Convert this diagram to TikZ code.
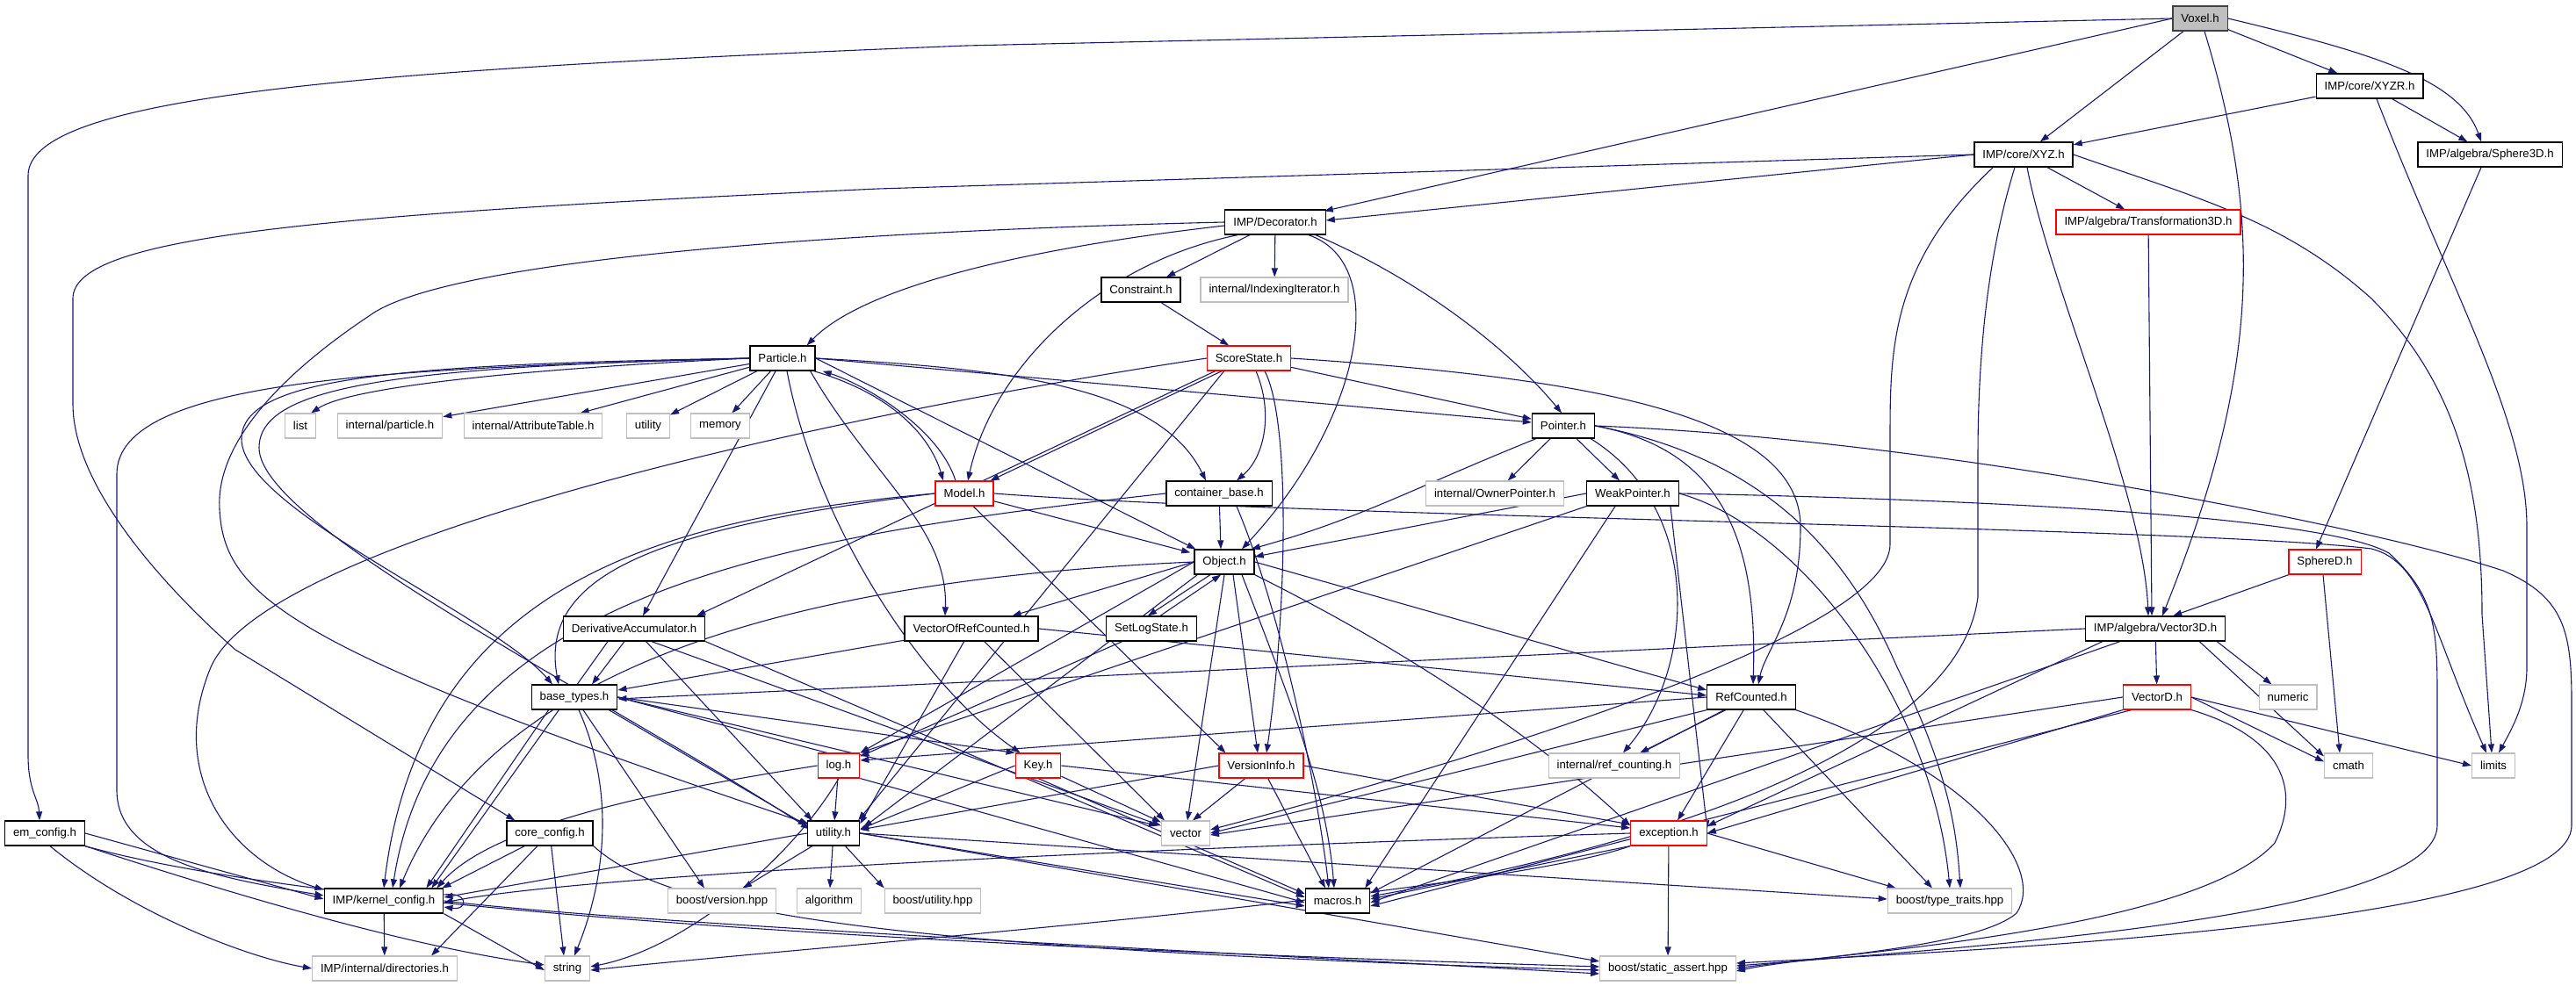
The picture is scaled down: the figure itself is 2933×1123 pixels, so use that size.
\documentclass[tikz,border=0pt]{standalone}
\usepackage{fontspec}
\setmainfont{Liberation Sans}
\usetikzlibrary{arrows.meta,calc,backgrounds}
\definecolor{edgec}{HTML}{191970}
\definecolor{grayb}{HTML}{BFBFBF}
\definecolor{redb}{HTML}{FF0000}
\begin{document}
\begin{tikzpicture}[x=1pt,y=-1pt,
  box/.style={line width=1.3pt, minimum height=28pt, inner xsep=9.5pt, inner ysep=0pt, font=\fontsize{13.2}{15}\selectfont, fill=white},
  nb/.style={box, draw=black},
  ng/.style={box, draw=grayb, line width=1.1pt},
  nr/.style={box, draw=redb, line width=1.1pt},
  nv/.style={box, draw=black!75, fill=grayb},
  ln/.style={draw=edgec, line width=1.1pt, -{Triangle[length=10pt,width=7pt]}}]
\useasboundingbox (0,0) rectangle (2933,1123);
\node[nv] (voxel) at (2505,21) {Voxel.h};
\node[nb] (xyzr) at (2698,98) {IMP/core/XYZR.h};
\node[nb] (sphere3d) at (2835,176) {IMP/algebra/Sphere3D.h};
\node[nb] (xyz) at (2304,176) {IMP/core/XYZ.h};
\node[nb] (decorator) at (1452,253) {IMP/Decorator.h};
\node[nr] (trans3d) at (2446,253) {IMP/algebra/Transformation3D.h};
\node[nb] (constraint) at (1299,330) {Constraint.h};
\node[ng] (indexing) at (1451,330) {internal/IndexingIterator.h};
\node[nb] (particle) at (891,408) {Particle.h};
\node[nr] (scorestate) at (1422,408) {ScoreState.h};
\node[ng] (list) at (342,485) {list};
\node[ng] (intparticle) at (444,485) {internal/particle.h};
\node[ng] (attrtable) at (607,485) {internal/AttributeTable.h};
\node[ng] (utilitystd) at (738,485) {utility};
\node[ng] (memory) at (820,485) {memory};
\node[nb] (pointer) at (1780,485) {Pointer.h};
\node[nr] (model) at (1098,562) {Model.h};
\node[nb] (containerbase) at (1388,562) {container\_base.h};
\node[ng] (ownerptr) at (1702,562) {internal/OwnerPointer.h};
\node[nb] (weakptr) at (1859,562) {WeakPointer.h};
\node[nb] (object) at (1394,640) {Object.h};
\node[nr] (sphered) at (2647,640) {SphereD.h};
\node[nb] (deriv) at (722,716) {DerivativeAccumulator.h};
\node[nb] (vorc) at (1106,716) {VectorOfRefCounted.h};
\node[nb] (setlog) at (1311,716) {SetLogState.h};
\node[nb] (vector3d) at (2454,716) {IMP/algebra/Vector3D.h};
\node[nb] (basetypes) at (654,794) {base\_types.h};
\node[nb] (refcounted) at (1994,794) {RefCounted.h};
\node[nr] (vectord) at (2456,794) {VectorD.h};
\node[ng] (numeric) at (2605,794) {numeric};
\node[nr] (logh) at (955,872) {log.h};
\node[nr] (key) at (1182,872) {Key.h};
\node[nr] (versioninfo) at (1436,872) {VersionInfo.h};
\node[ng] (refcounting) at (1838,872) {internal/ref\_counting.h};
\node[ng] (cmath) at (2674,872) {cmath};
\node[ng] (limits) at (2839,872) {limits};
\node[nb] (emconfig) at (51,949) {em\_config.h};
\node[nb] (coreconfig) at (626,949) {core\_config.h};
\node[nb] (utilityh) at (949,949) {utility.h};
\node[ng] (vector) at (1350,949) {vector};
\node[nr] (exception) at (1900,949) {exception.h};
\node[nb] (kernelconfig) at (437,1026) {IMP/kernel\_config.h};
\node[ng] (boostversion) at (822,1026) {boost/version.hpp};
\node[ng] (algorithm) at (944,1026) {algorithm};
\node[ng] (boostutility) at (1062,1026) {boost/utility.hpp};
\node[nb] (macros) at (1523,1026) {macros.h};
\node[ng] (typetraits) at (2220,1026) {boost/type\_traits.hpp};
\node[ng] (directories) at (438,1103) {IMP/internal/directories.h};
\node[ng] (string) at (646,1103) {string};
\node[ng] (staticassert) at (1899,1103) {boost/static\_assert.hpp};
\begin{scope}[on background layer]
\fill[white] (0,0) rectangle (2933,1123);
% Voxel
\draw[ln] (voxel.west) -- (1100,52) .. controls (400,80) and (32,110) .. (32,200) -- (32,860) .. controls (32,900) and (44,910) .. ($(emconfig.north)+(-6,0)$);
\draw[ln] (voxel.west) -- ($(decorator.north east)+(-2,2)$);
\draw[ln] (voxel) -- (xyz);
\draw[ln] ($(voxel.south)+(5,0)$) .. controls (2575,250) and (2575,420) .. ($(vector3d.north)+(8,0)$);
\draw[ln] (voxel) -- (xyzr);
\draw[ln] (voxel.east) .. controls (2700,60) and (2800,90) .. ($(sphere3d.north)+(-10,0)$);
% XYZR
\draw[ln] (xyzr) -- (xyz);
\draw[ln] (xyzr) -- (sphere3d);
\draw[ln] ($(xyzr.south)+(8,0)$) .. controls (2790,330) and (2877,480) .. (2877,600) -- (2877,760) .. controls (2877,800) and (2860,830) .. ($(limits.north)+(6,0)$);
% XYZ
\draw[ln] (xyz.west) -- ($(decorator.east)+(0,-2)$);
\draw[ln] (xyz.west) -- (1000,215) .. controls (350,245) and (83,270) .. (83,340) -- (83,460) .. controls (83,560) and (200,680) .. (268,740) -- ($(coreconfig.north west)+(10,0)$);
\draw[ln] (xyz) -- (trans3d);
\draw[ln] ($(xyz.south)+(4,0)$) .. controls (2335,330) and (2440,560) .. ($(vector3d.north)+(-8,0)$);
\draw[ln] (xyz.east) .. controls (2500,225) and (2600,250) .. (2700,340) .. controls (2800,440) and (2826,560) .. (2826,700) -- ($(limits.north)+(-2,0)$);
\draw[ln] ($(xyz.south west)+(22,0)$) .. controls (2152,300) and (2152,400) .. (2152,500) -- (2152,620) .. controls (2152,720) and (1700,860) .. ($(vector.east)+(0,-4)$);
\draw[ln] ($(xyz.south)+(-10,0)$) .. controls (2260,300) and (2252,420) .. (2252,520) -- (2252,680) .. controls (2230,850) and (1900,960) .. ($(macros.east)+(0,-5)$);
% Transformation3D, Sphere3D, SphereD
\draw[ln] (trans3d) -- ($(vector3d.north)+(-4,0)$);
\draw[ln] ($(sphere3d.south)+(-10,0)$) -- ($(sphered.north)+(-10,0)$);
\draw[ln] (sphered) -- ($(vector3d.north east)+(-60,0)$);
\draw[ln] ($(sphered.south)+(-2,0)$) -- ($(cmath.north)+(-10,0)$);
% Decorator
\draw[ln] ($(decorator.west)+(0,4)$) .. controls (1150,285) and (980,330) .. ($(particle.north east)+(-10,0)$);
\draw[ln] ($(decorator.south west)+(15,0)$) .. controls (1250,300) and (1130,420) .. ($(model.north)+(4,0)$);
\draw[ln] (decorator) -- (constraint);
\draw[ln] (decorator) -- (indexing);
\draw[ln] ($(decorator.south east)+(-20,0)$) .. controls (1585,300) and (1550,480) .. ($(object.north)+(20,0)$);
\draw[ln] ($(decorator.south east)+(-12,0)$) .. controls (1620,320) and (1720,400) .. ($(pointer.north)+(-2,0)$);
\draw[ln] (decorator.west) .. controls (900,265) and (500,300) .. (420,360) .. controls (330,420) and (245,500) .. (250,580) .. controls (255,680) and (330,740) .. ($(utilityh.north west)+(2,4)$);
\draw[ln] (constraint) -- (scorestate);
% Particle
\draw[ln] (particle.west) .. controls (600,420) and (400,440) .. ($(list.north east)+(-6,0)$);
\draw[ln] (particle) -- (intparticle);
\draw[ln] (particle) -- (attrtable);
\draw[ln] (particle) -- (utilitystd);
\draw[ln] (particle) -- (memory);
\draw[ln] (particle) -- ($(deriv.north)+(10,0)$);
\draw[ln] (particle.west) .. controls (450,420) and (133,430) .. (133,540) -- (133,900) .. controls (133,980) and (250,1000) .. ($(kernelconfig.west)+(0,-6)$);
\draw[ln] (particle.west) .. controls (450,415) and (275,430) .. (275,500) .. controls (275,580) and (560,700) .. ($(basetypes.north)+(-25,0)$);
\draw[ln] (particle.west) .. controls (450,418) and (295,440) .. (295,510) .. controls (295,600) and (700,800) .. ($(utilityh.north west)+(3,10)$);
\draw[ln] ($(particle.south east)+(-2,0)$) .. controls (1020,450) and (1060,500) .. ($(model.north)+(-24,0)$);
\draw[ln] ($(model.north)+(-10,0)$) .. controls (1070,490) and (990,440) .. ($(particle.south east)+(8,0)$);
\draw[ln] (particle.east) -- ($(pointer.west)+(0,-4)$);
\draw[ln] (particle.east) .. controls (1150,420) and (1320,440) .. ($(containerbase.north)+(-15,0)$);
\draw[ln] (particle.east) -- ($(object.north west)+(2,0)$);
\draw[ln] ($(particle.south east)+(-6,0)$) .. controls (990,540) and (1080,600) .. ($(vorc.north)+(-30,0)$);
\draw[ln] ($(particle.south)+(5,0)$) .. controls (930,600) and (1050,780) .. ($(key.north west)+(6,0)$);
% ScoreState
\draw[ln] (scorestate) -- ($(model.north east)+(-4,0)$);
\draw[ln] (scorestate.west) .. controls (900,480) and (300,620) .. (240,760) .. controls (190,880) and (260,980) .. ($(kernelconfig.north west)+(0,2)$);
\draw[ln] ($(scorestate.south west)+(10,0)$) -- ($(deriv.north east)+(-10,0)$);
\draw[ln] ($(scorestate.south west)+(20,0)$) -- ($(utilityh.north east)+(-2,0)$);
\draw[ln] ($(scorestate.south)+(8,0)$) .. controls (1450,470) and (1440,520) .. ($(containerbase.north)+(20,0)$);
\draw[ln] ($(scorestate.south)+(18,0)$) .. controls (1470,480) and (1465,700) .. ($(versioninfo.north)+(6,0)$);
\draw[ln] (scorestate) -- (pointer);
\draw[ln] (scorestate.east) .. controls (1800,430) and (2050,470) .. (2050,600) .. controls (2050,700) and (2010,740) .. ($(refcounted.north)+(8,0)$);
% Pointer
\draw[ln] (pointer) -- (ownerptr);
\draw[ln] (pointer) -- (weakptr);
\draw[ln] ($(pointer.south west)+(5,0)$) .. controls (1600,560) and (1550,590) .. ($(object.north east)+(-4,0)$);
\draw[ln] (pointer.east) .. controls (1950,510) and (2002,600) .. ($(refcounted.north)+(2,0)$);
\draw[ln] ($(pointer.south east)+(-5,0)$) .. controls (1940,580) and (1930,760) .. ($(refcounting.north)+(10,0)$);
\draw[ln] (pointer.east) .. controls (2000,520) and (2100,620) .. (2160,760) .. controls (2220,880) and (2228,950) .. ($(typetraits.north)+(12,0)$);
\draw[ln] (pointer.east) .. controls (2200,500) and (2700,600) .. (2850,650) .. controls (2920,680) and (2928,720) .. (2928,800) -- (2928,940) .. controls (2928,1050) and (2300,1080) .. ($(staticassert.east)+(0,-6)$);
% Model
\draw[ln] (model) -- ($(object.north west)+(-4,4)$);
\draw[ln] (model.west) .. controls (760,600) and (612,650) .. ($(basetypes.north)+(-18,0)$);
\draw[ln] (model.west) .. controls (760,590) and (480,660) .. ($(kernelconfig.north)+(0,0)$);
\draw[ln] ($(model.south)+(10,0)$) -- ($(versioninfo.north west)+(8,0)$);
\draw[ln] (model.east) .. controls (1500,590) and (2500,600) .. (2700,625) .. controls (2760,640) and (2770,720) .. ($(limits.north)+(-8,0)$);
% container_base
\draw[ln] (containerbase) -- ($(object.north)+(-4,0)$);
\draw[ln] ($(containerbase.south)+(20,0)$) .. controls (1460,700) and (1500,900) .. ($(macros.north)+(-10,0)$);
\draw[ln] (containerbase.west) .. controls (900,610) and (500,670) .. ($(kernelconfig.north)+(10,0)$);
% WeakPointer
\draw[ln] (weakptr.west) -- ($(object.east)+(0,-6)$);
\draw[ln] (weakptr.south west) -- (logh.north east);
\draw[ln] ($(weakptr.south)+(-20,0)$) -- ($(macros.north east)+(-6,0)$);
\draw[ln] ($(weakptr.south east)+(-10,0)$) -- ($(exception.north east)+(0,10)$);
\draw[ln] (weakptr.east) .. controls (2050,600) and (2200,800) .. ($(typetraits.north)+(0,0)$);
\draw[ln] (weakptr.east) .. controls (2300,570) and (2650,590) .. (2720,630) .. controls (2775,680) and (2775,720) .. (2775,800) -- (2775,940) .. controls (2775,1040) and (2300,1075) .. ($(staticassert.east)+(0,-3)$);
% Object
\draw[ln] (object.east) -- ($(refcounted.west)+(0,-8)$);
\draw[ln] (object.west) -- ($(vorc.north east)+(-30,0)$);
\draw[ln] ($(object.south)+(-16,0)$) -- ($(setlog.north)+(-4,0)$);
\draw[ln] ($(setlog.north)+(10,0)$) -- ($(object.south)+(-4,0)$);
\draw[ln] (object.west) -- (logh.north east);
\draw[ln] ($(object.south)+(10,0)$) -- ($(versioninfo.north)+(-4,0)$);
\draw[ln] ($(object.south)+(0,0)$) -- ($(vector.north)+(2,0)$);
\draw[ln] ($(object.south)+(20,0)$) .. controls (1470,800) and (1510,900) .. ($(macros.north)+(-4,0)$);
\draw[ln] (object.south east) .. controls (1620,750) and (1760,850) .. ($(exception.north west)+(0,6)$);
\draw[ln] ($(object.south west)+(4,0)$) -- ($(utilityh.north east)+(4,8)$);
\draw[ln] (object.west) .. controls (900,660) and (560,760) .. ($(kernelconfig.north)+(18,0)$);
\draw[ln] (setlog) -- ($(logh.north east)+(0,4)$);
% DerivativeAccumulator
\draw[ln] (deriv) -- ($(basetypes.north)+(20,0)$);
\draw[ln] ($(deriv.south)+(-30,0)$) -- ($(kernelconfig.north east)+(-14,0)$);
\draw[ln] (deriv) -- ($(utilityh.north west)+(6,0)$);
\draw[ln] ($(deriv.south)+(20,0)$) -- ($(vector.north west)+(0,6)$);
\draw[ln] (deriv.south east) -- ($(macros.west)+(0,-4)$);
% VectorOfRefCounted
\draw[ln] (vorc) -- ($(basetypes.east)+(0,-8)$);
\draw[ln] (vorc.east) -- ($(refcounted.west)+(0,-2)$);
\draw[ln] (vorc) -- ($(vector.north west)+(4,0)$);
\draw[ln] (vorc) -- ($(utilityh.north east)+(0,4)$);
% Vector3D and VectorD
\draw[ln] (vector3d.west) -- ($(basetypes.east)+(0,2)$);
\draw[ln] (vector3d) -- (vectord);
\draw[ln] ($(vector3d.south east)+(-10,0)$) -- (numeric);
\draw[ln] ($(vector3d.south east)+(-30,0)$) -- ($(cmath.north west)+(0,4)$);
\draw[ln] ($(vector3d.south west)+(20,0)$) -- ($(exception.east)+(0,-8)$);
\draw[ln] ($(vector3d.south west)+(40,0)$) -- ($(macros.east)+(0,2)$);
\draw[ln] (vectord.east) -- ($(cmath.north west)+(0,10)$);
\draw[ln] (vectord.east) -- (limits.west);
\draw[ln] (vectord.west) -- ($(vector.east)+(0,2)$);
\draw[ln] (vectord.south west) -- ($(exception.east)+(0,0)$);
\draw[ln] ($(vectord.south west)+(10,0)$) -- ($(macros.east)+(0,6)$);
\draw[ln] (vectord.south east) .. controls (2600,840) and (2620,900) .. (2590,960) .. controls (2500,1060) and (2100,1085) .. ($(staticassert.east)+(0,0)$);
% base_types
\draw[ln] (basetypes.east) -- (key.north west);
\draw[ln] (basetypes.east) -- ($(logh.north east)+(0,10)$);
\draw[ln] (basetypes.east) -- ($(vector.north west)+(-4,6)$);
\draw[ln] ($(basetypes.south)+(10,0)$) -- ($(boostversion.north)+(-20,0)$);
\draw[ln] ($(basetypes.south)+(5,0)$) .. controls (700,900) and (690,1000) .. ($(string.north)+(8,0)$);
\draw[ln] ($(basetypes.south west)+(20,0)$) -- ($(kernelconfig.north east)+(-20,0)$);
\draw[ln] ($(basetypes.south east)+(-10,0)$) -- ($(utilityh.north west)+(0,6)$);
% RefCounted
\draw[ln] (refcounted.west) -- ($(logh.east)+(0,-6)$);
\draw[ln] (refcounted) -- (refcounting);
\draw[ln] (refcounted.south west) -- (vector.east);
\draw[ln] (refcounted) -- ($(exception.north)+(10,0)$);
\draw[ln] ($(refcounted.south west)+(20,0)$) -- ($(macros.north east)+(0,6)$);
\draw[ln] (refcounted) -- ($(typetraits.north)+(-20,0)$);
\draw[ln] (refcounted.south east) .. controls (2250,880) and (2330,990) .. (2296,1040) .. controls (2250,1080) and (2050,1090) .. ($(staticassert.east)+(0,3)$);
% log.h
\draw[ln] (logh.west) .. controls (750,900) and (560,940) .. ($(kernelconfig.north east)+(-8,0)$);
\draw[ln] (logh) -- (utilityh);
\draw[ln] (logh.south east) -- ($(macros.west)+(0,2)$);
\draw[ln] (logh.south) .. controls (900,980) and (780,1080) .. ($(string.east)+(0,-2)$);
% Key.h
\draw[ln] (key.west) -- ($(utilityh.north east)+(0,10)$);
\draw[ln] (key) -- ($(vector.north west)+(0,2)$);
\draw[ln] (key.south) -- ($(macros.west)+(0,-8)$);
\draw[ln] (key.east) -- ($(exception.west)+(0,-6)$);
% VersionInfo.h
\draw[ln] (versioninfo.west) -- ($(utilityh.east)+(0,-4)$);
\draw[ln] (versioninfo) -- ($(vector.north)+(8,0)$);
\draw[ln] (versioninfo) -- ($(macros.north)+(-14,0)$);
\draw[ln] (versioninfo.east) -- ($(exception.west)+(0,-10)$);
% utility.h
\draw[ln] (utilityh.west) -- ($(kernelconfig.east)+(0,-4)$);
\draw[ln] (utilityh) -- (boostversion);
\draw[ln] (utilityh) -- (algorithm);
\draw[ln] (utilityh) -- (boostutility.north west);
\draw[ln] (utilityh.east) -- ($(macros.west)+(0,6)$);
\draw[ln] (utilityh.east) -- ($(typetraits.west)+(0,-2)$);
\draw[ln] (utilityh.east) -- ($(staticassert.west)+(0,-8)$);
% exception.h
\draw[ln] (exception.south west) -- ($(macros.east)+(0,-2)$);
\draw[ln] (exception.south west) .. controls (1700,1020) and (900,1080) .. ($(string.east)+(0,2)$);
\draw[ln] (exception) -- (staticassert);
\draw[ln] (exception.east) -- ($(typetraits.north west)+(10,0)$);
\draw[ln] (exception.west) .. controls (1500,960) and (700,990) .. ($(kernelconfig.east)+(0,2)$);
% config headers
\draw[ln] (emconfig.east) -- ($(kernelconfig.west)+(0,-2)$);
\draw[ln] ($(emconfig.south)+(6,0)$) .. controls (150,1040) and (280,1090) .. (directories.west);
\draw[ln] (emconfig.south east) .. controls (300,1030) and (480,1080) .. ($(string.west)+(0,-4)$);
\draw[ln] (emconfig.south east) .. controls (300,1020) and (800,1070) .. ($(staticassert.west)+(0,-2)$);
\draw[ln] (coreconfig) -- ($(kernelconfig.north east)+(-2,0)$);
\draw[ln] (coreconfig) -- ($(directories.north east)+(-30,0)$);
\draw[ln] (coreconfig) -- ($(string.north)+(-4,0)$);
\draw[ln] (coreconfig.south east) .. controls (760,1040) and (1000,1080) .. ($(staticassert.west)+(0,2)$);
\draw[ln] (kernelconfig) -- (directories);
\draw[ln] (kernelconfig.south east) -- ($(string.west)+(0,2)$);
\draw[ln] (kernelconfig.east) .. controls (700,1050) and (1300,1080) .. ($(staticassert.west)+(0,6)$);
\draw[ln] ($(kernelconfig.east)+(0,-7)$) .. controls +(28,-4) and +(28,4) .. ($(kernelconfig.east)+(0,7)$);
\end{scope}
\end{tikzpicture}
\end{document}
